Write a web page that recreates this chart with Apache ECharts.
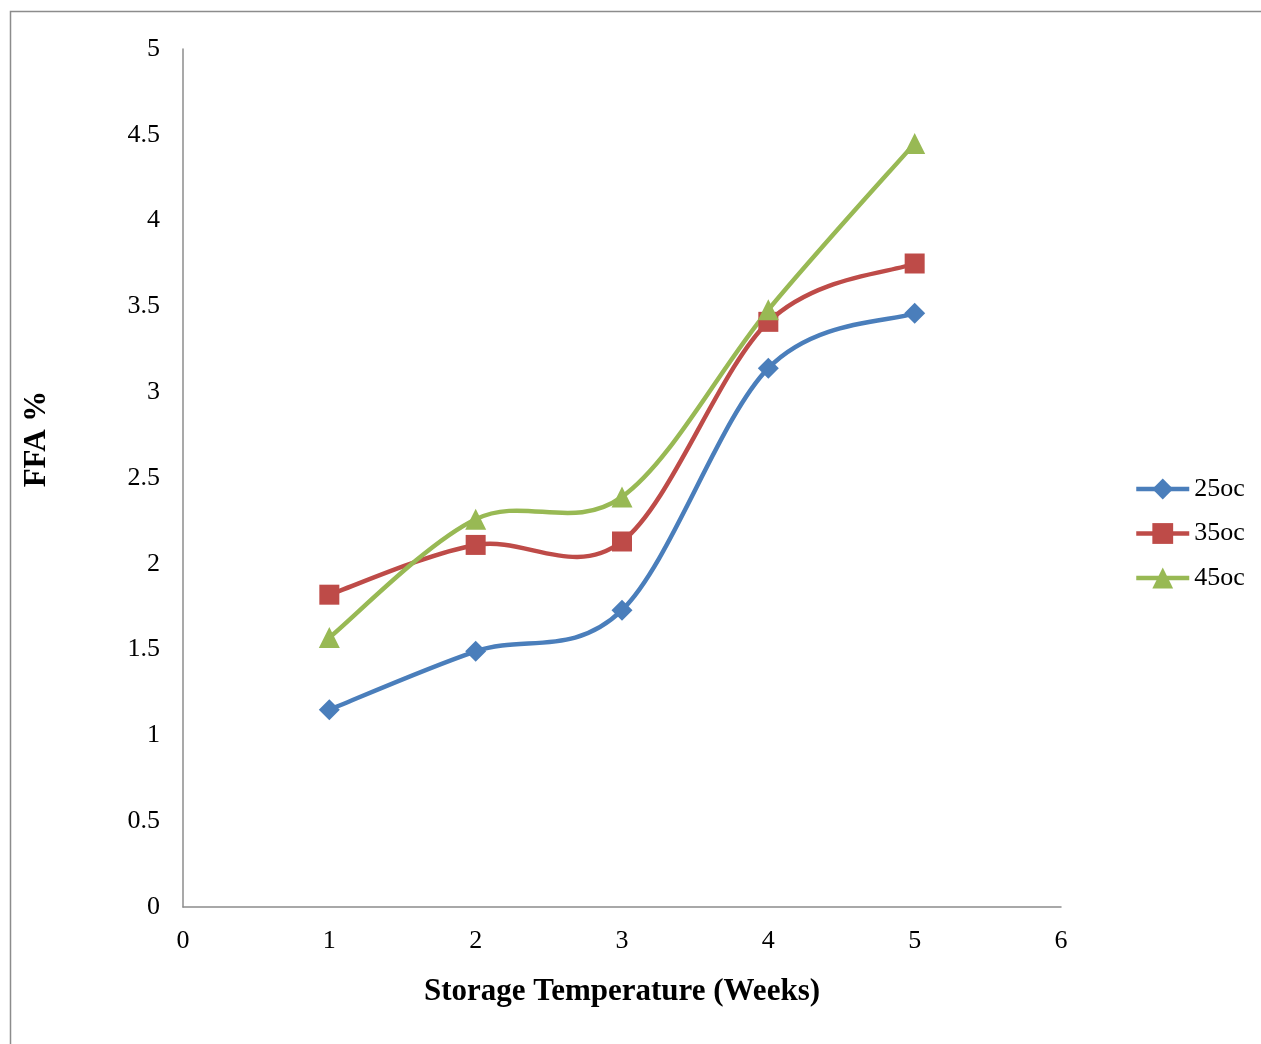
<!DOCTYPE html>
<html><head><meta charset="utf-8">
<script src="https://cdn.jsdelivr.net/npm/echarts@6/dist/echarts.min.js"></script>
<style>html,body{margin:0;padding:0;background:#fff}#c{width:1261px;height:1044px}</style>
</head><body><div id="c"></div>
<script>
const weeks = [1, 2, 3, 4, 5];
const s25 = [1.15, 1.49, 1.73, 3.14, 3.46];
const s35 = [1.82, 2.11, 2.13, 3.41, 3.75];
const s45 = [1.57, 2.26, 2.39, 3.48, 4.45];
const seriesNames = ['25oc', '35oc', '45oc'];
const xTitle = 'Storage Temperature (Weeks)';
const yTitle = 'FFA %';

const font = '"Liberation Serif","Times New Roman",serif';
const chart = echarts.init(document.getElementById('c'));

// Excel-style smoothed curve (Catmull-Rom Bezier) built from the axis scales
function curveSeries(vals, color) {
  return {
    type: 'custom', z: 1, silent: true,
    data: weeks.map((w, i) => [w, vals[i]]),
    renderItem: function (params, api) {
      if (params.dataIndex !== 0) return null;
      const p = weeks.map((w, i) => api.coord([w, vals[i]]));
      const n = p.length;
      let d = 'M' + p[0][0] + ' ' + p[0][1];
      for (let i = 0; i < n - 1; i++) {
        const p0 = p[Math.max(i - 1, 0)], p1 = p[i], p2 = p[i + 1], p3 = p[Math.min(i + 2, n - 1)];
        const c1x = p1[0] + (p2[0] - p0[0]) / 6, c1y = p1[1] + (p2[1] - p0[1]) / 6;
        const c2x = p2[0] - (p3[0] - p1[0]) / 6, c2y = p2[1] - (p3[1] - p1[1]) / 6;
        d += ' C' + c1x + ' ' + c1y + ' ' + c2x + ' ' + c2y + ' ' + p2[0] + ' ' + p2[1];
      }
      return { type: 'path', shape: { pathData: d },
        style: { fill: 'none', stroke: color, lineWidth: 4.5, lineJoin: 'round', lineCap: 'round' } };
    }
  };
}
function markerSeries(name, vals, color, symbol, size) {
  return {
    name, type: 'line', z: 3,
    data: weeks.map((w, i) => [w, vals[i]]),
    symbol, symbolSize: size,
    lineStyle: { color, width: 4.5, opacity: 0 },
    itemStyle: { color },
    emphasis: { disabled: true }
  };
}
const colors = ['#4a7ebb', '#be4b48', '#98b954'];
chart.setOption({
  animation: false,
  graphic: [
    { type: 'rect', shape: { x: 10.5, y: 11.5, width: 1260, height: 1040 },
      style: { fill: 'none', stroke: '#8c8c8c', lineWidth: 1.5 }, silent: true },
    { type: 'text', x: 37, y: 439, rotation: Math.PI / 2,
      style: { text: yTitle, fontFamily: font, fontSize: 31, fontWeight: 'bold', fill: '#000',
        align: 'center', verticalAlign: 'middle' } }
  ],
  grid: { left: 183, right: 200, top: 49, bottom: 137 },
  xAxis: {
    type: 'value', min: 0, max: 6, interval: 1,
    name: xTitle, nameLocation: 'middle', nameGap: 69,
    nameTextStyle: { fontFamily: font, fontSize: 31, fontWeight: 'bold', color: '#000' },
    axisLine: { lineStyle: { color: '#8c8c8c', width: 1.5 } },
    axisTick: { show: false },
    splitLine: { show: false },
    axisLabel: { fontFamily: font, fontSize: 26, color: '#000', margin: 21 }
  },
  yAxis: {
    type: 'value', min: 0, max: 5, interval: 0.5,
    axisLine: { show: true, lineStyle: { color: '#8c8c8c', width: 1.5 } },
    axisTick: { show: false },
    splitLine: { show: false },
    axisLabel: { fontFamily: font, fontSize: 26, color: '#000', margin: 23,
      formatter: v => String(v) }
  },
  legend: {
    orient: 'vertical', left: 1129, top: 471, itemGap: 18.5,
    itemWidth: 53, itemHeight: 26,
    data: seriesNames,
    lineStyle: { width: 4.5, opacity: 1 },
    textStyle: { fontFamily: font, fontSize: 26, color: '#000' }
  },
  series: [
    curveSeries(s25, colors[0]),
    curveSeries(s35, colors[1]),
    curveSeries(s45, colors[2]),
    markerSeries(seriesNames[0], s25, colors[0], 'diamond', 21),
    markerSeries(seriesNames[1], s35, colors[1], 'rect', 20),
    markerSeries(seriesNames[2], s45, colors[2], 'triangle', 21)
  ]
});
</script></body></html>
